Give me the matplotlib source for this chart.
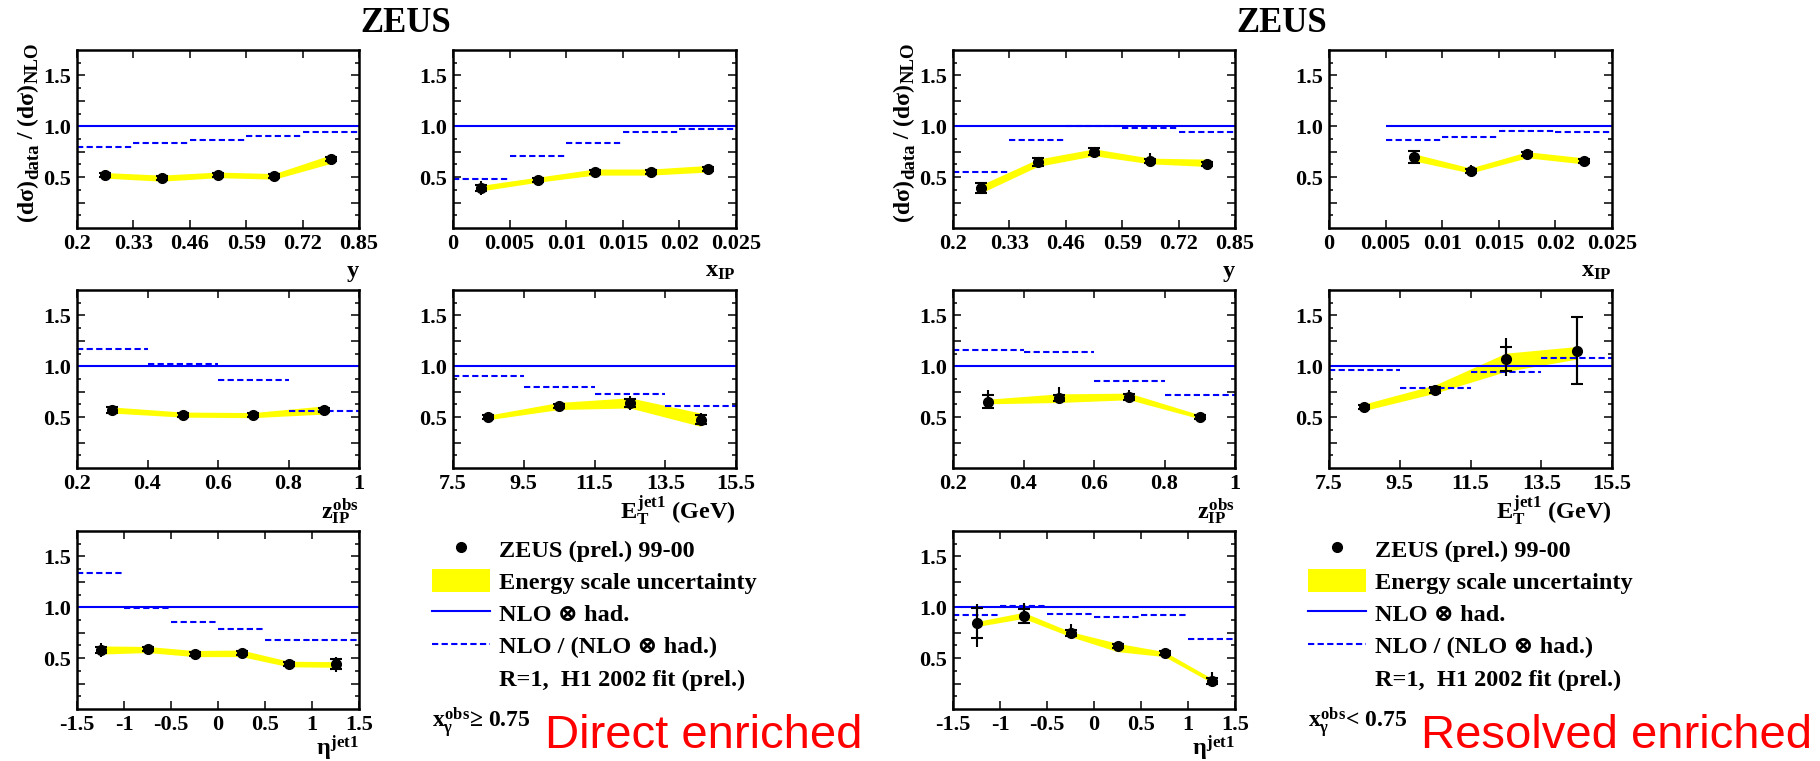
import matplotlib
matplotlib.use('Agg')
from matplotlib import pyplot as plt
from matplotlib.lines import Line2D
from matplotlib.patches import Patch

plt.rcParams['font.family'] = ['Liberation Serif', 'DejaVu Serif']
plt.rcParams['font.weight'] = 'bold'
plt.rcParams['mathtext.fontset'] = 'custom'
plt.rcParams['mathtext.rm'] = 'Liberation Serif:bold'
plt.rcParams['mathtext.it'] = 'Liberation Serif:bold'
plt.rcParams['mathtext.bf'] = 'Liberation Serif:bold'
plt.rcParams['axes.unicode_minus'] = False

W, H = 1820, 761

# bins, bin centres and tick labels
y_edges = [0.2, 0.33, 0.46, 0.59, 0.72, 0.85]
y_x = [0.265, 0.395, 0.525, 0.655, 0.785]
y_ticks = ['0.2', '0.33', '0.46', '0.59', '0.72', '0.85']
xip_ticks_pos = [0, 0.005, 0.01, 0.015, 0.02, 0.025]
xip_ticks = ['0', '0.005', '0.01', '0.015', '0.02', '0.025']
xip_edges_d = [0, 0.005, 0.01, 0.015, 0.02, 0.025]
xip_x_d = [0.0025, 0.0075, 0.0125, 0.0175, 0.0225]
xip_edges_r = [0.005, 0.01, 0.015, 0.02, 0.025]
xip_x_r = [0.0075, 0.0125, 0.0175, 0.0225]
z_edges = [0.2, 0.4, 0.6, 0.8, 1.0]
z_x = [0.3, 0.5, 0.7, 0.9]
z_ticks = ['0.2', '0.4', '0.6', '0.8', '1']
et_edges = [7.5, 9.5, 11.5, 13.5, 15.5]
et_x = [8.5, 10.5, 12.5, 14.5]
et_ticks = ['7.5', '9.5', '11.5', '13.5', '15.5']
eta_edges = [-1.5, -1.0, -0.5, 0.0, 0.5, 1.0, 1.5]
eta_x = [-1.25, -0.75, -0.25, 0.25, 0.75, 1.25]
eta_ticks = ['-1.5', '-1', '-0.5', '0', '0.5', '1', '1.5']

# direct enriched (x_gamma >= 0.75)
d_y_val = [0.517, 0.49, 0.523, 0.507, 0.677]
d_y_lo = [0.03, 0.03, 0.03, 0.03, 0.03]
d_y_hi = [0.03, 0.03, 0.03, 0.03, 0.03]
d_y_stat = [0.02, 0.02, 0.02, 0.02, 0.02]
d_y_blo = [0.49, 0.46, 0.495, 0.48, 0.635]
d_y_bhi = [0.545, 0.52, 0.55, 0.535, 0.72]
d_y_had = [0.80, 0.84, 0.87, 0.90, 0.94]

d_xip_val = [0.393, 0.474, 0.55, 0.55, 0.582]
d_xip_lo = [0.07, 0.03, 0.03, 0.03, 0.04]
d_xip_hi = [0.07, 0.03, 0.03, 0.03, 0.04]
d_xip_stat = [0.03, 0.02, 0.02, 0.02, 0.02]
d_xip_blo = [0.365, 0.45, 0.52, 0.52, 0.55]
d_xip_bhi = [0.42, 0.50, 0.58, 0.58, 0.615]
d_xip_had = [0.484, 0.71, 0.84, 0.94, 0.978]

d_z_val = [0.569, 0.523, 0.52, 0.569]
d_z_lo = [0.05, 0.03, 0.03, 0.03]
d_z_hi = [0.05, 0.03, 0.03, 0.03]
d_z_stat = [0.03, 0.02, 0.02, 0.02]
d_z_blo = [0.54, 0.50, 0.495, 0.53]
d_z_bhi = [0.60, 0.55, 0.545, 0.61]
d_z_had = [1.174, 1.024, 0.867, 0.559]

d_et_val = [0.497, 0.608, 0.638, 0.474]
d_et_lo = [0.02, 0.03, 0.07, 0.065]
d_et_hi = [0.02, 0.03, 0.07, 0.065]
d_et_stat = [0.02, 0.02, 0.04, 0.045]
d_et_blo = [0.475, 0.575, 0.59, 0.41]
d_et_bhi = [0.52, 0.645, 0.69, 0.54]
d_et_had = [0.906, 0.795, 0.723, 0.612]

d_eta_val = [0.58, 0.587, 0.544, 0.547, 0.442, 0.439]
d_eta_lo = [0.07, 0.03, 0.03, 0.03, 0.03, 0.075]
d_eta_hi = [0.07, 0.03, 0.03, 0.03, 0.03, 0.075]
d_eta_stat = [0.03, 0.02, 0.02, 0.02, 0.02, 0.05]
d_eta_blo = [0.54, 0.555, 0.515, 0.515, 0.415, 0.41]
d_eta_bhi = [0.62, 0.615, 0.575, 0.58, 0.47, 0.465]
d_eta_had = [1.34, 0.99, 0.859, 0.783, 0.678, 0.678]

# resolved enriched (x_gamma < 0.75)
r_y_val = [0.393, 0.648, 0.752, 0.661, 0.628]
r_y_lo = [0.05, 0.045, 0.04, 0.03, 0.05]
r_y_hi = [0.05, 0.045, 0.04, 0.075, 0.05]
r_y_stat = [0.045, 0.04, 0.035, 0.02, 0.02]
r_y_blo = [0.345, 0.605, 0.71, 0.631, 0.605]
r_y_bhi = [0.425, 0.677, 0.778, 0.687, 0.677]
r_y_had = [0.546, 0.867, 0.998, 0.985, 0.939]

r_xip_val = [0.697, 0.563, 0.723, 0.661]
r_xip_lo = [0.07, 0.03, 0.03, 0.03]
r_xip_hi = [0.07, 0.06, 0.03, 0.04]
r_xip_stat = [0.06, 0.02, 0.02, 0.02]
r_xip_blo = [0.66, 0.54, 0.69, 0.63]
r_xip_bhi = [0.73, 0.59, 0.75, 0.69]
r_xip_had = [0.867, 0.893, 0.949, 0.942]

r_z_val = [0.651, 0.687, 0.70, 0.504]
r_z_lo = [0.062, 0.035, 0.03, 0.02]
r_z_hi = [0.12, 0.11, 0.07, 0.02]
r_z_stat = [0.062, 0.03, 0.03, 0.02]
r_z_blo = [0.631, 0.644, 0.671, 0.484]
r_z_bhi = [0.677, 0.729, 0.736, 0.523]
r_z_had = [1.161, 1.142, 0.851, 0.713]

r_et_val = [0.599, 0.769, 1.073, 1.155]
r_et_lo = [0.02, 0.04, 0.173, 0.331]
r_et_hi = [0.02, 0.05, 0.203, 0.34]
r_et_stat = [0.02, 0.03, 0.12, 0.33]
r_et_blo = [0.565, 0.736, 0.949, 1.07]
r_et_bhi = [0.63, 0.817, 1.129, 1.194]
r_et_had = [0.965, 0.782, 0.939, 1.08]

r_eta_val = [0.842, 0.914, 0.744, 0.619, 0.547, 0.279]
r_eta_lo = [0.229, 0.07, 0.04, 0.03, 0.04, 0.03]
r_eta_hi = [0.19, 0.13, 0.09, 0.03, 0.04, 0.08]
r_eta_stat = [0.148, 0.07, 0.03, 0.02, 0.02, 0.03]
r_eta_blo = [0.81, 0.89, 0.711, 0.564, 0.515, 0.259]
r_eta_bhi = [0.86, 0.95, 0.76, 0.646, 0.564, 0.302]
r_eta_had = [0.924, 1.013, 0.934, 0.908, 0.928, 0.685]

legend_labels = ['ZEUS (prel.) 99-00', 'Energy scale uncertainty', 'NLO ⊗ had.',
                 'NLO / (NLO ⊗ had.)', 'R=1,  H1 2002 fit (prel.)']
ylabel_parts = [('(dσ)', 0), ('data', 1), (' / ', 0), ('(dσ)', 0), ('NLO', 1)]

cols = [(77, 359), (453, 736)]
rows = [(50, 228), (290, 468), (531, 709)]
label_drop = [49, 51, 46]
dash = (0, (3, 1.6))


def make_axes(fig, col, row, shift):
    x0, x1 = cols[col]
    y0, y1 = rows[row]
    x0 += shift
    x1 += shift
    return fig.add_axes([x0 / W, 1 - y1 / H, (x1 - x0) / W, (y1 - y0) / H])


def panel(ax, edges, x, val, lo, hi, stat, blo, bhi, had, tpos, tlab, xlabel, drop):
    ax.fill_between(x, blo, bhi, color=(1, 1, 0), lw=0, zorder=1)
    ax.hlines(1.0, edges[0], edges[-1], color=(0, 0, 1), lw=1.5, zorder=2)
    ax.hlines(had, edges[:-1], edges[1:], color=(0, 0, 1), lw=1.5, linestyles=[dash], zorder=2)
    ax.errorbar(x, val, yerr=[lo, hi], fmt='none', ecolor='k', elinewidth=1.5, capsize=0, zorder=3)
    ax.errorbar(x, val, yerr=stat, fmt='o', color='k', ms=7, elinewidth=1.5,
                capsize=4, capthick=1.5, zorder=4)
    ax.set_xlim(tpos[0], tpos[-1])
    ax.set_ylim(0, 1.75)
    ax.set_xticks(tpos, tlab)
    ax.set_yticks([0.25, 0.5, 0.75, 1.0, 1.25, 1.5], ['', '0.5', '', '1.0', '', '1.5'])
    ax.set_yticks([0.125, 0.375, 0.625, 0.875, 1.125, 1.375, 1.625], minor=True)
    ax.tick_params(which='both', direction='in', top=True, right=True, width=1.1,
                   labelsize=16, pad=4)
    ax.tick_params(which='major', length=5.5)
    ax.tick_params(which='minor', length=3)
    for s in ax.spines.values():
        s.set_linewidth(1.8)
    ax.text(1.0, -drop / 178, xlabel, transform=ax.transAxes, ha='right', va='baseline',
            fontsize=17.5)


def ylabel(fig, xb, yc):
    # rotated label built from pieces so the subscripts keep ROOT-like size
    r = fig.canvas.get_renderer()
    texts = []
    for s, sub in ylabel_parts:
        t = fig.text(0, 0, s, rotation=90, rotation_mode='anchor', ha='left', va='baseline',
                     fontsize=13.5 if sub else 17)
        texts.append((t, sub))
    lens = [t.get_window_extent(r).height for t, sub in texts]
    ypos = (H - yc) - sum(lens) / 2
    for (t, sub), ln in zip(texts, lens):
        t.set_position(((xb + 5 * sub) / W, ypos / H))
        ypos += ln


fig = plt.figure(figsize=(W / 100, H / 100), dpi=100)

halves = [
    (0, 'Direct enriched', r'$x_{\gamma}^{obs}$≥ 0.75',
     [(y_edges, y_x, d_y_val, d_y_lo, d_y_hi, d_y_stat, d_y_blo, d_y_bhi, d_y_had),
      (xip_edges_d, xip_x_d, d_xip_val, d_xip_lo, d_xip_hi, d_xip_stat, d_xip_blo, d_xip_bhi, d_xip_had),
      (z_edges, z_x, d_z_val, d_z_lo, d_z_hi, d_z_stat, d_z_blo, d_z_bhi, d_z_had),
      (et_edges, et_x, d_et_val, d_et_lo, d_et_hi, d_et_stat, d_et_blo, d_et_bhi, d_et_had),
      (eta_edges, eta_x, d_eta_val, d_eta_lo, d_eta_hi, d_eta_stat, d_eta_blo, d_eta_bhi, d_eta_had)]),
    (876, 'Resolved enriched', r'$x_{\gamma}^{obs}$< 0.75',
     [(y_edges, y_x, r_y_val, r_y_lo, r_y_hi, r_y_stat, r_y_blo, r_y_bhi, r_y_had),
      (xip_edges_r, xip_x_r, r_xip_val, r_xip_lo, r_xip_hi, r_xip_stat, r_xip_blo, r_xip_bhi, r_xip_had),
      (z_edges, z_x, r_z_val, r_z_lo, r_z_hi, r_z_stat, r_z_blo, r_z_bhi, r_z_had),
      (et_edges, et_x, r_et_val, r_et_lo, r_et_hi, r_et_stat, r_et_blo, r_et_bhi, r_et_had),
      (eta_edges, eta_x, r_eta_val, r_eta_lo, r_eta_hi, r_eta_stat, r_eta_blo, r_eta_bhi, r_eta_had)]),
]

places = [(0, 0), (1, 0), (0, 1), (1, 1), (0, 2)]
ticks = [(y_edges, y_ticks), (xip_ticks_pos, xip_ticks), (z_edges, z_ticks),
         (et_edges, et_ticks), (eta_edges, eta_ticks)]
xlabels = ['y', r'$x_{IP}$', r'$z_{IP}^{obs}$', r'$E_{T}^{jet1}$ (GeV)', r'$\eta^{jet1}$']

for shift, tag, cut, sets in halves:
    for i in range(5):
        ax = make_axes(fig, places[i][0], places[i][1], shift)
        panel(ax, *sets[i], ticks[i][0], ticks[i][1], xlabels[i], label_drop[places[i][1]])
    fig.text((406 + shift) / W, 1 - 32 / H, 'ZEUS', ha='center', va='baseline', fontsize=25)
    ylabel(fig, 33 + shift, 132)
    handles = [Line2D([], [], marker='o', color='k', ls='none', ms=7),
               Patch(facecolor=(1, 1, 0), edgecolor='none'),
               Line2D([], [], color=(0, 0, 1), lw=1.5),
               Line2D([], [], color=(0, 0, 1), lw=1.5, ls=dash),
               Line2D([], [], ls='none')]
    fig.legend(handles, legend_labels, loc='upper left',
               bbox_to_anchor=((432 + shift) / W, 1 - 537 / H), frameon=False,
               fontsize=17.5, handlelength=2.39, handleheight=1.07, handletextpad=0.37,
               labelspacing=0.31, borderpad=0, borderaxespad=0)
    fig.text((432 + shift) / W, 1 - 728 / H, cut, ha='left', va='baseline', fontsize=17)
    fig.text((545 + shift) / W, 1 - 748 / H, tag, ha='left', va='baseline', fontsize=34,
             family='Liberation Sans', weight='normal', color=(1, 0, 0))

fig.savefig('out.png', dpi=100)
